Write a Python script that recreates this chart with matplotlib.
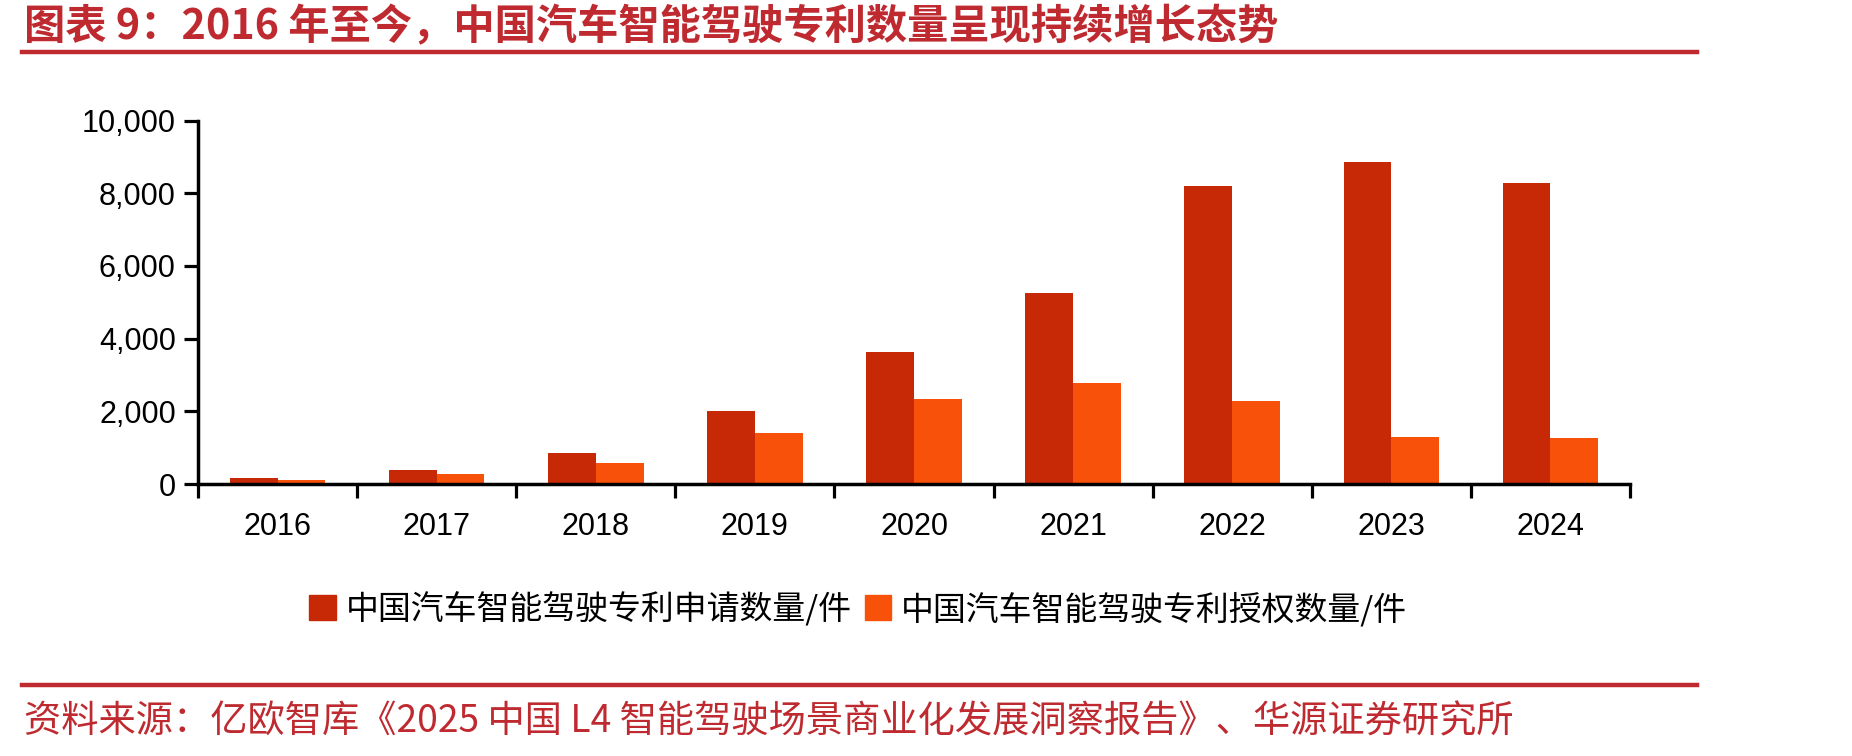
import matplotlib
matplotlib.use("Agg")
import numpy as np
import matplotlib.pyplot as plt
from matplotlib.patches import Patch

plt.rcParams['font.family'] = ['Noto Sans CJK SC', 'DejaVu Sans']

# data
years = ['2016', '2017', '2018', '2019', '2020', '2021', '2022', '2023', '2024']
applied = [175, 395, 860, 2005, 3620, 5245, 8195, 8855, 8290]
granted = [120, 285, 585, 1410, 2325, 2790, 2295, 1305, 1275]
yticks = [0, 2000, 4000, 6000, 8000, 10000]

title = '图表 9：2016 年至今，中国汽车智能驾驶专利数量呈现持续增长态势'
source = '资料来源：亿欧智库《2025 中国 L4 智能驾驶场景商业化发展洞察报告》、华源证券研究所'
labels = ['中国汽车智能驾驶专利申请数量/件', '中国汽车智能驾驶专利授权数量/件']

red = '#C72806'
orange = '#F8520A'
dark_red = '#BE2A30'

fig = plt.figure(figsize=(18.52, 7.56), dpi=100)
ax = fig.add_axes([198/1852, 1-484/756, (1630-198)/1852, (484-120.5)/756])

x = np.arange(len(years))
w = 0.3
ax.bar(x - w/2, applied, w, color=red, label=labels[0])
ax.bar(x + w/2, granted, w, color=orange, label=labels[1])

ax.set_xlim(-0.5, len(years) - 0.5)
ax.set_ylim(0, 10000)
ax.set_yticks(yticks)
ax.set_yticklabels([f'{v:,}' for v in yticks], family='Liberation Sans', fontsize=22)

# ticks at category boundaries, labels at centers
ax.set_xticks(np.arange(-0.5, len(years)), minor=False)
ax.set_xticklabels([])
ax.set_xticks(x, minor=True)
ax.set_xticklabels(years, minor=True, family='Liberation Sans', fontsize=22)
ax.tick_params(axis='x', which='major', length=10, width=2.3, direction='out')
ax.tick_params(axis='x', which='minor', length=0, pad=20)
ax.tick_params(axis='y', length=10, width=2.3, pad=6)

for s in ['top', 'right']:
    ax.spines[s].set_visible(False)
for s in ['left', 'bottom']:
    ax.spines[s].set_linewidth(2.5)

handles = [Patch(color=red), Patch(color=orange)]
fig.legend(handles, labels, loc='center', bbox_to_anchor=(858/1852, 1-609/756),
           ncol=2, frameon=False, fontsize=23.7, handlelength=0.8, handleheight=0.8,
           handletextpad=0.3, columnspacing=0.4)

# title, rules and source
fig.text(24/1852, 1-27/756, title, color=dark_red, fontsize=29.7, fontweight='bold',
         va='center', ha='left')
fig.add_artist(plt.Line2D([22/1852, 1697/1852], [1-52/756, 1-52/756], color=dark_red, lw=3.2))
fig.add_artist(plt.Line2D([22/1852, 1697/1852], [1-685/756, 1-685/756], color=dark_red, lw=3.2))
fig.text(24/1852, 1-722/756, source, color=dark_red, fontsize=26.8, va='center', ha='left')

fig.savefig('out.png', dpi=100)
